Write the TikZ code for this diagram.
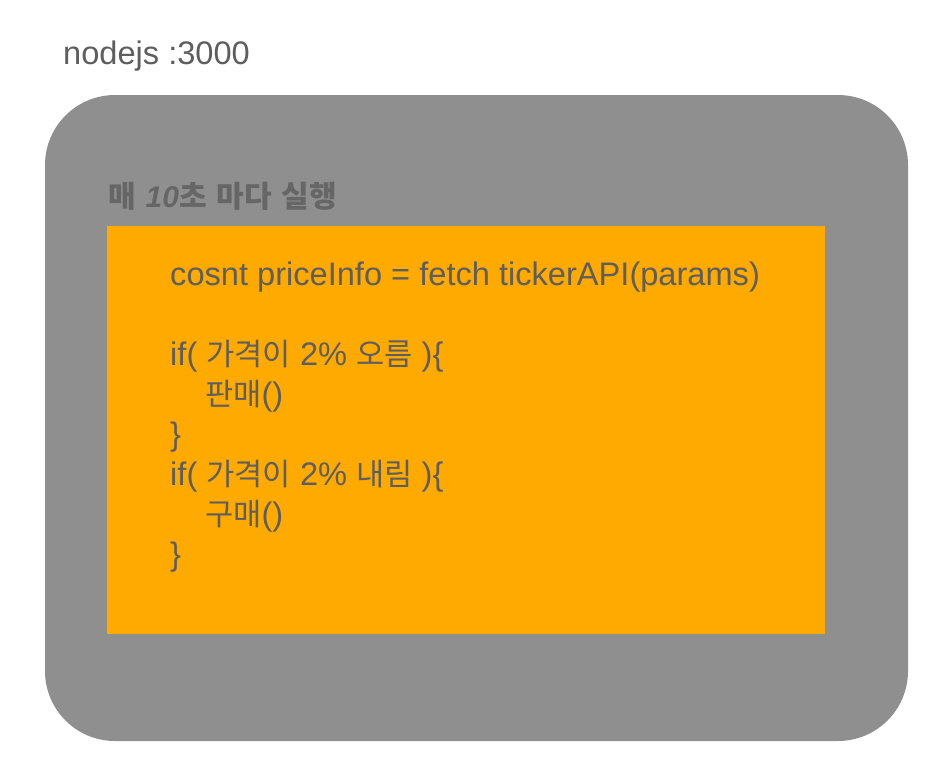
\documentclass[tikz,border=0pt]{standalone}
\usepackage{fontspec}
\setmainfont{Liberation Sans}
\newfontfamily\kr{Noto Sans CJK KR}[Scale=0.94]
\newfontfamily\krh{Noto Sans CJK KR}
\definecolor{boxgray}{HTML}{8F8F8F}
\definecolor{codeorange}{HTML}{FFAA00}
\definecolor{txtgray}{HTML}{5E5E5E}
\definecolor{headgray}{HTML}{666666}
\begin{document}
\begin{tikzpicture}[x=1pt,y=-1pt,
  codeline/.style={anchor=base west,inner sep=0pt,text=txtgray,font=\fontsize{32.6}{38}\selectfont},
  title/.style={anchor=base west,inner sep=0pt,text=txtgray,font=\fontsize{32.6}{38}\selectfont},
  head/.style={anchor=base west,inner sep=0pt,text=headgray,font=\fontsize{30}{36}\selectfont\bfseries}]
\useasboundingbox (0,0) rectangle (948,782);
\fill[white] (0,0) rectangle (948,782);
\node[title] (ttl) at (63,64) {nodejs :3000};
\fill[boxgray,rounded corners=70pt] (45,95) rectangle (908,741);
\node[head] (hd) at (108,207) {{\krh\bfseries 매}\hspace{0.33em}\textit{10}{\krh\bfseries 초}\hspace{0.33em}{\krh\bfseries 마다}\hspace{0.33em}{\krh\bfseries 실행}};
\fill[codeorange] (107,226) rectangle (825,634);
\node[codeline] (l1) at (170,285) {cosnt priceInfo = fetch tickerAPI(params)};
\node[codeline] (l2) at (170,365) {if( {\kr 가격이} 2\% {\kr 오름} )\{};
\node[codeline] (l3) at (205,405) {{\kr 판매}()};
\node[codeline] (l4) at (170,445) {\}};
\node[codeline] (l5) at (170,485) {if( {\kr 가격이} 2\% {\kr 내림} )\{};
\node[codeline] (l6) at (205,525) {{\kr 구매}()};
\node[codeline] (l7) at (170,565) {\}};
\end{tikzpicture}
\end{document}
